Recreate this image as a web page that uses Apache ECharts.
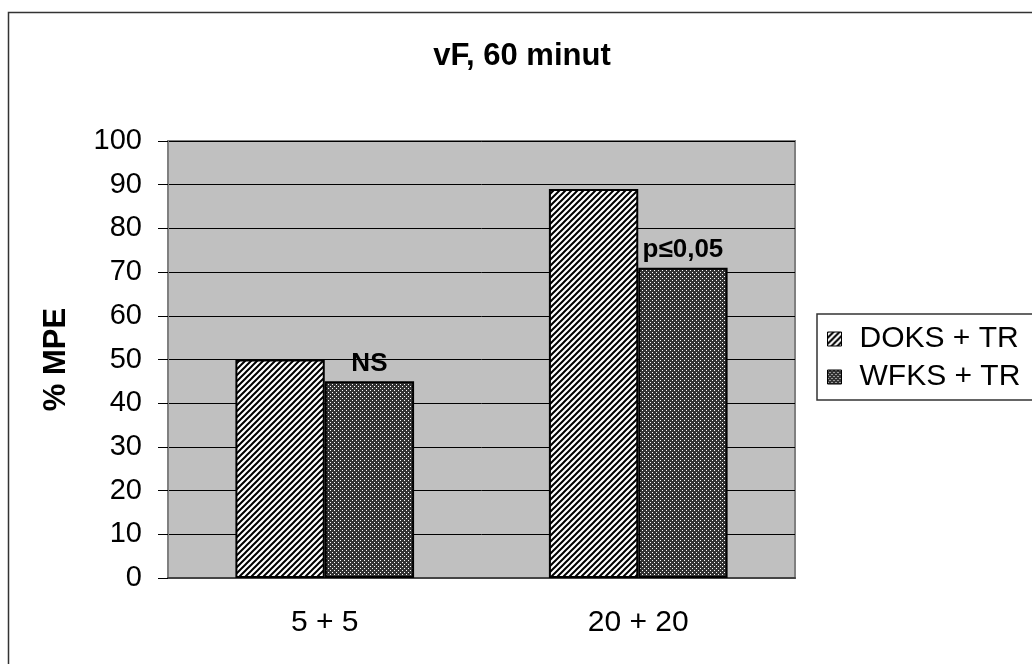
<!DOCTYPE html>
<html><head><meta charset="utf-8">
<script src="https://cdn.jsdelivr.net/npm/echarts@6/dist/echarts.min.js"></script>
<style>html,body{margin:0;padding:0;background:#fff}#c{width:1032px;height:664px}</style>
</head><body><div id="c"></div>
<script>
var categories = ['5 + 5', '20 + 20'];
var seriesNames = ['DOKS + TR', 'WFKS + TR'];
var doksValues = [50, 89];
var wfksValues = [45, 71];
var wfksLabels = ['NS', 'p≤0,05'];
var titleText = 'vF, 60 minut';
var yAxisName = '% MPE';

function stripePattern() {
  var s = 6, c = document.createElement('canvas');
  c.width = s; c.height = s;
  var g = c.getContext('2d');
  g.fillStyle = '#fff'; g.fillRect(0, 0, s, s);
  g.strokeStyle = '#000'; g.lineWidth = 2;
  g.beginPath();
  g.moveTo(-1, s + 1); g.lineTo(s + 1, -1);
  g.moveTo(-1, 1); g.lineTo(1, -1);
  g.moveTo(s - 1, s + 1); g.lineTo(s + 1, s - 1);
  g.stroke();
  return c;
}
function dotPattern() {
  var s = 4, c = document.createElement('canvas');
  c.width = s; c.height = s;
  var g = c.getContext('2d');
  g.fillStyle = '#333'; g.fillRect(0, 0, s, s);
  g.fillStyle = '#fff';
  g.fillRect(0, 0, 1, 1); g.fillRect(2, 2, 1, 1);
  return c;
}
var stripe = {image: stripePattern(), repeat: 'repeat'};
var dots = {image: dotPattern(), repeat: 'repeat'};

var chart = echarts.init(document.getElementById('c'), null, {renderer: 'canvas'});
var font = 'Liberation Sans, Arial, sans-serif';
chart.setOption({
  animation: false,
  textStyle: {fontFamily: font},
  title: {text: titleText, left: 517, textAlign: 'center', top: 36,
    textStyle: {fontSize: 31, fontWeight: 'bold', color: '#000', fontFamily: font}},
  graphic: [{type: 'rect', shape: {x: 8.5, y: 12.5, width: 1100, height: 700},
    style: {fill: 'none', stroke: '#333', lineWidth: 1.5}, silent: true, z: -10}],
  legend: {
    orient: 'vertical', left: 817, top: 314,
    borderColor: '#333', borderWidth: 1.5, padding: [10, 80, 8, 10],
    itemWidth: 14, itemHeight: 14, itemGap: 8, icon: 'rect',
    textStyle: {fontSize: 30, lineHeight: 30, color: '#000', fontFamily: font, padding: [0, 0, 0, 13]},
    itemStyle: {borderColor: '#000', borderWidth: 1},
    data: seriesNames
  },
  grid: {left: 168, top: 141, width: 627, height: 437, show: true,
    backgroundColor: '#c0c0c0', borderColor: '#808080', borderWidth: 2},
  xAxis: {type: 'category', data: categories,
    axisLine: {lineStyle: {color: '#444', width: 2}},
    axisTick: {length: 10, lineStyle: {color: '#000'}},
    axisLabel: {fontSize: 30, color: '#000', margin: 30}},
  yAxis: {type: 'value', min: 0, max: 100, interval: 10,
    name: yAxisName, nameLocation: 'middle', nameGap: 96, nameRotate: 90,
    nameTextStyle: {fontSize: 31, fontWeight: 'bold', color: '#000'},
    axisLine: {show: true, lineStyle: {color: '#808080', width: 1}},
    axisTick: {show: true, length: 10, lineStyle: {color: '#000'}},
    axisLabel: {fontSize: 29, color: '#000', margin: 26},
    splitLine: {lineStyle: {color: '#000', width: 1}}},
  series: [
    {name: seriesNames[0], type: 'bar', data: doksValues, barGap: '0%', barCategoryGap: '43%',
      itemStyle: {color: stripe, borderColor: '#000', borderWidth: 2}},
    {name: seriesNames[1], type: 'bar', data: wfksValues,
      itemStyle: {color: dots, borderColor: '#000', borderWidth: 2},
      label: {show: true, position: 'top', distance: 5, fontSize: 26, fontWeight: 'bold', color: '#000',
        formatter: function (p) { return wfksLabels[p.dataIndex]; }}}
  ]
});
</script></body></html>
